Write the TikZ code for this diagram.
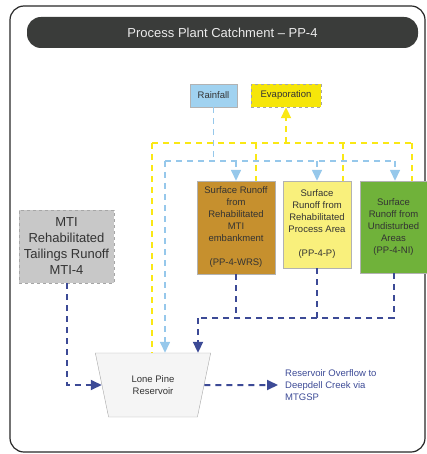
\documentclass[tikz,border=0pt]{standalone}
\usepackage{fontspec}
\setmainfont{Liberation Sans}
\usepackage{xcolor}
\definecolor{ppframe}{RGB}{40,40,40}
\definecolor{pptitle}{RGB}{58,60,58}
\definecolor{pprain}{RGB}{160,210,240}
\definecolor{ppevap}{RGB}{246,230,10}
\definecolor{ppbrown}{RGB}{198,144,46}
\definecolor{pplemon}{RGB}{249,240,124}
\definecolor{ppgreen}{RGB}{112,178,58}
\definecolor{ppgrey}{RGB}{200,200,200}
\definecolor{ppnavy}{RGB}{60,74,150}
\definecolor{ppsky}{RGB}{150,200,235}
\definecolor{ppyellow}{RGB}{250,232,20}
\usepackage{tikz}
\usetikzlibrary{arrows.meta, positioning, shapes.geometric}

\begin{document}
\begin{tikzpicture}[x=1pt,y=-1pt,
  box/.style={draw=gray!60,inner sep=0pt,align=center,text=black!80,
    font=\fontsize{9.5}{12}\selectfont},
  rainline/.style={draw=ppsky,line width=1.5pt,dash pattern=on 6pt off 5pt},
  evapline/.style={draw=ppyellow,line width=2pt,dash pattern=on 6pt off 5pt},
  flowline/.style={draw=ppnavy,line width=2pt,dash pattern=on 6pt off 5pt},
  tip/.style={-{Triangle[width=10pt,length=11pt]}}]
  \useasboundingbox (0,0) rectangle (427,454);

  % frame and title
  \draw[ppframe,line width=1.2pt,rounded corners=14pt] (10,6) rectangle (425,452);
  \node[fill=pptitle,rounded corners=14pt,minimum width=391pt,minimum height=31pt,
    text=white!92!black,font=\fontsize{13}{15}\selectfont] (title) at (222.5,32.5)
    {Process Plant Catchment -- PP-4};

  % inputs
  \node[box,fill=pprain,minimum width=47pt,minimum height=23pt] (rain) at (213.5,95.5) {Rainfall};
  \node[box,fill=ppevap,draw=gray!70,dashed,minimum width=70pt,minimum height=23pt] (evap) at (286,95.5) {Evaporation};

  % catchment areas
  \node[box,fill=ppbrown,minimum width=78pt,minimum height=93pt] (wrs) at (236,227.5)
    {Surface Runoff\\from\\Rehabilitated\\MTI\\embankment\\[12pt](PP-4-WRS)};
  \node[box,fill=pplemon,minimum width=68pt,minimum height=87pt] (proc) at (317,224.5)
    {Surface\\Runoff from\\Rehabilitated\\Process Area\\[12pt](PP-4-P)};
  \node[box,fill=ppgreen,minimum width=67pt,minimum height=92pt] (undist) at (393.5,227)
    {Surface\\Runoff from\\Undisturbed\\Areas\\(PP-4-NI)};
  \node[box,fill=ppgrey,dashed,draw=gray!70,minimum width=95pt,minimum height=73pt,
    font=\fontsize{13}{16}\selectfont] (mti) at (66.5,246.5)
    {MTI\\Rehabilitated\\Tailings Runoff\\MTI-4};

  % reservoir
  \node[draw=gray!70,fill=gray!8,trapezium,trapezium left angle=108.6,trapezium right angle=108.6,
    trapezium stretches=true,minimum width=116pt,minimum height=64pt,inner sep=0pt,align=center,
    text=black!80,font=\fontsize{9.5}{12}\selectfont] (resv) at (153,385) {Lone Pine\\Reservoir};
  \node[align=left,anchor=west,inner sep=0pt,text=ppnavy,font=\fontsize{9.5}{12}\selectfont]
    (overflow) at (285,385) {Reservoir Overflow to\\Deepdell Creek via\\MTGSP};

  % rainfall
  \coordinate (rl) at (165,161);
  \coordinate (rr) at (395,161);
  \draw[rainline] (rain.south) -- (rain.south |- rl);
  \draw[rainline] (rl) -- (rr);
  \draw[rainline,tip] (rl) -- (rl |- resv.north);
  \draw[rainline,tip] (wrs.north |- rl) -- (wrs.north);
  \draw[rainline,tip] (proc.north |- rl) -- (proc.north);
  \draw[rainline,tip] (rr) -- (rr |- undist.north);

  % evaporation
  \coordinate (el) at (152,143);
  \coordinate (er) at (412,143);
  \draw[evapline] (el) -- (er);
  \draw[evapline,tip] (evap.south |- el) -- (evap.south);
  \draw[evapline] (el) -- (el |- resv.north);
  \draw[evapline] (256,143) -- (256,181);
  \draw[evapline] (343,143) -- (343,181);
  \draw[evapline] (er) -- (er |- undist.north);

  % runoff to reservoir
  \coordinate (fl) at (198,318);
  \draw[flowline] (wrs.south) -- (wrs.south |- fl);
  \draw[flowline] (proc.south) -- (proc.south |- fl);
  \draw[flowline] (undist.south) -- (undist.south |- fl) -- (fl);
  \draw[flowline,tip] (fl) -- (fl |- resv.north);
  \draw[flowline,tip] (mti.south) |- (resv.west);
  \draw[flowline,tip,shorten >=7pt] (resv.east) -- (overflow.west);
\end{tikzpicture}
\end{document}
